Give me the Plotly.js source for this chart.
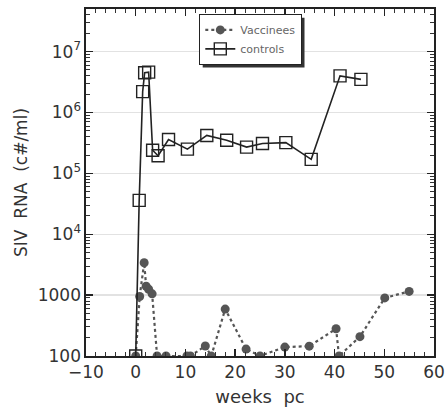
<!DOCTYPE html>
<html><head><meta charset="utf-8">
<script src="https://cdn.plot.ly/plotly-3.0.1.min.js"></script>
<style>body{margin:0;background:#fff}#c{width:446px;height:411px}</style>
</head><body><div id="c"></div>
<script>
const vaccWeeks = [0, 0.8, 1.7, 2.1, 2.6, 3.3, 4.3, 6.1, 10.3, 11, 14, 15.2, 18, 22.2, 25, 30, 34.9, 40.3, 40.9, 45.1, 50.1, 55];
const vaccRNA   = [100, 950, 3400, 1400, 1250, 1050, 100, 100, 100, 100, 146, 100, 590, 130, 100, 140, 145, 280, 100, 208, 900, 1150];
const ctrlWeeks = [0, 0.7, 1.4, 1.8, 2.6, 3.4, 4.5, 6.6, 10.4, 14.3, 18.3, 22.3, 25.5, 30.2, 35.3, 41.1, 45.3];
const ctrlRNA   = [100, 36000, 2200000, 4500000, 4600000, 240000, 195000, 360000, 250000, 420000, 350000, 270000, 310000, 320000, 170000, 4000000, 3500000];
const yTickVals = [100, 1000, 1e4, 1e5, 1e6, 1e7];
const yTickText = ['100', '1000', '10<sup>4</sup>', '10<sup>5</sup>', '10<sup>6</sup>', '10<sup>7</sup>'];
const xTickVals = [-10, 0, 10, 20, 30, 40, 50, 60];

const font = {family: 'DejaVu Sans, Verdana, sans-serif', color: '#333'};
const traces = [
  {x: vaccWeeks, y: vaccRNA, name: 'Vaccinees', mode: 'lines+markers', type: 'scatter',
   line: {color: '#555', width: 2.2, dash: 'dot'},
   marker: {symbol: 'circle', size: 9, color: '#555'}},
  {x: ctrlWeeks, y: ctrlRNA, name: 'controls', mode: 'lines+markers', type: 'scatter',
   line: {color: '#222', width: 1.6},
   marker: {symbol: 'square-open', size: 12, color: '#222', line: {width: 1.4}}}
];
const layout = {
  width: 446, height: 411,
  margin: {l: 86, r: 12, t: 9, b: 55},
  paper_bgcolor: '#fff', plot_bgcolor: '#fff',
  font: font,
  showlegend: true,
  legend: {x: 0.325, y: 0.985, xanchor: 'left', yanchor: 'top',
    bgcolor: '#fff', bordercolor: '#222', borderwidth: 1.2,
    font: {family: font.family, size: 11, color: '#666'},
    tracegroupgap: 0},
  xaxis: {range: [-10, 60], tickmode: 'array', tickvals: xTickVals,
    ticks: 'inside', ticklen: 7, tickwidth: 1.3, tickcolor: '#222', showgrid: false, zeroline: false,
    showline: true, linecolor: '#222', linewidth: 1.6, mirror: 'allticks',
    tickfont: {size: 17, color: '#333'},
    minor: {tickmode: 'linear', tick0: 0, dtick: 2, ticks: 'inside', ticklen: 4, tickcolor: '#333', tickwidth: 1},
    title: {text: 'weeks&nbsp;&nbsp;pc', font: {size: 18, color: '#333'}, standoff: 9}},
  yaxis: {type: 'log', range: [2, 7.7], tickmode: 'array', tickvals: yTickVals, ticktext: yTickText,
    ticks: 'inside', ticklen: 7, tickwidth: 1.3, tickcolor: '#222', showgrid: true, gridcolor: '#e2e2e2', gridwidth: 1.5,
    zeroline: false, showline: true, linecolor: '#222', linewidth: 1.6, mirror: 'allticks',
    tickfont: {size: 17, color: '#333'},
    minor: {dtick: 'D1', ticks: 'inside', ticklen: 4, tickcolor: '#333', tickwidth: 1},
    title: {text: 'SIV&nbsp;&nbsp;RNA&nbsp;&nbsp;(c#/ml)', font: {size: 17, color: '#333'}, standoff: 6}}
};
Plotly.newPlot('c', traces, layout, {displayModeBar: false, staticPlot: true}).then(gd => {
  const bg = gd.querySelector('.legend .bg');
  if (!bg) return;
  const r = bg.getBoundingClientRect();
  const fs = gd._fullLayout._size;
  const px = v => (v - fs.l) / fs.w, py = v => 1 - (v - fs.t) / fs.h;
  Plotly.relayout(gd, {shapes: [{type: 'rect', xref: 'paper', yref: 'paper',
    x0: px(r.left + 3), x1: px(r.right + 3), y0: py(r.bottom + 3), y1: py(r.top + 3),
    line: {width: 0}, fillcolor: '#333', layer: 'above'}]});
});
</script></body></html>
